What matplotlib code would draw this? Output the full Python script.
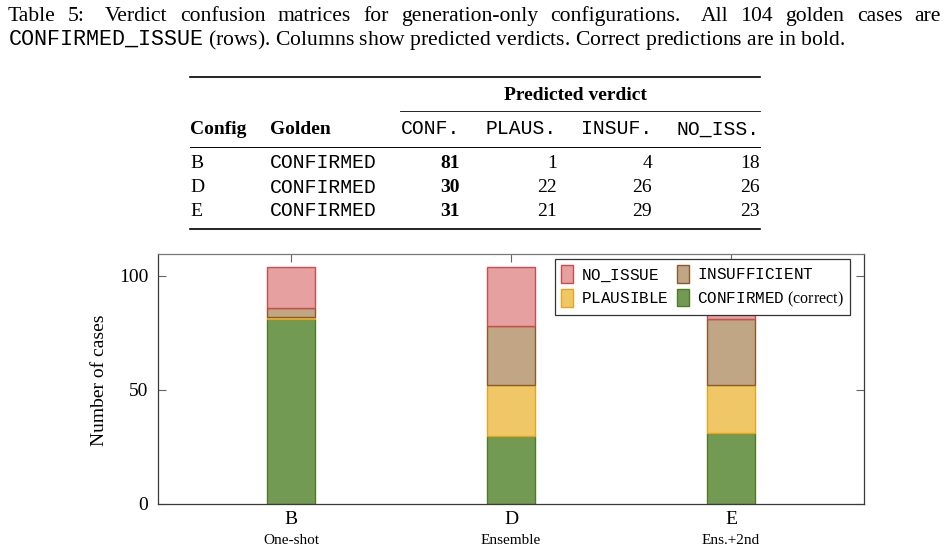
import matplotlib
matplotlib.use("Agg")
import matplotlib.pyplot as plt
import numpy as np
from matplotlib.lines import Line2D
from matplotlib.patches import Patch
from matplotlib.transforms import blended_transform_factory

plt.rcParams['font.family'] = ['Liberation Serif', 'DejaVu Serif']
plt.rcParams['mathtext.fontset'] = 'custom'
plt.rcParams['mathtext.rm'] = 'Liberation Serif'
plt.rcParams['mathtext.tt'] = 'Liberation Mono'
plt.rcParams['mathtext.bf'] = 'Liberation Serif:bold'

# ---------------- data ----------------
configs = ['B', 'D', 'E']
config_desc = ['One-shot', 'Ensemble', 'Ens.+2nd']
golden = ['CONFIRMED', 'CONFIRMED', 'CONFIRMED']
confirmed = [81, 30, 31]
plausible = [1, 22, 21]
insufficient = [4, 26, 29]
no_issue = [18, 26, 23]
pred_headers = ['CONF.', 'PLAUS.', 'INSUF.', 'NO_ISS.']
yticks = [0, 50, 100]

W, H = 949, 552
fig = plt.figure(figsize=(W / 100, H / 100), dpi=100)

def fx(px):
    return px / W

def fy(py):
    return 1 - py / H

MONO = 'Liberation Mono'
SERIF = 'Liberation Serif'

# ---------------- caption ----------------
cap_size = 15.6
words = "Table 5:  Verdict confusion matrices for generation-only configurations.  All 104 golden cases are".split()
renderer = fig.canvas.get_renderer()
tmp = [fig.text(0, 0, w, fontsize=cap_size, family=SERIF) for w in words]
widths = [t.get_window_extent(renderer).width for t in tmp]
for t in tmp:
    t.remove()
weights = []
for w in words[:-1]:
    weights.append(1.6 if w.endswith(':') or w.endswith('.') else 1.0)
left, right = 8, 941
gap_total = (right - left) - sum(widths)
unit = gap_total / sum(weights)
x = left
for i, w in enumerate(words):
    fig.text(fx(x), fy(21), w, fontsize=cap_size, family=SERIF, ha='left', va='baseline')
    x += widths[i]
    if i < len(weights):
        x += unit * weights[i]

fig.text(fx(8), fy(45), r"$\mathtt{CONFIRMED\_ISSUE}$ (rows). Columns show predicted verdicts. Correct predictions are in bold.",
         fontsize=cap_size, family=SERIF, ha='left', va='baseline')

# ---------------- table ----------------
tab_size = 14
mono_size = 14.2
def rule(y, x0, x1, lw):
    fig.add_artist(Line2D([fx(x0), fx(x1)], [fy(y), fy(y)], transform=fig.transFigure,
                          color='black', lw=lw))

rule(77, 190, 760, 1.2)
rule(111, 400, 760, 0.6)
rule(147, 190, 760, 0.7)
rule(229, 190, 760, 1.2)

fig.text(fx(575), fy(95), 'Predicted verdict', fontsize=tab_size, family=SERIF,
         weight='bold', ha='center', va='center')
fig.text(fx(190), fy(129), 'Config', fontsize=tab_size, family=SERIF, weight='bold', ha='left', va='center')
fig.text(fx(270), fy(129), 'Golden', fontsize=tab_size, family=SERIF, weight='bold', ha='left', va='center')
col_right = [460, 557, 652, 760]
for h, xr in zip(pred_headers, col_right):
    fig.text(fx(xr), fy(129), h, fontsize=mono_size, family=MONO, ha='right', va='center')

row_y = [163, 187, 211]
for i, (c, g) in enumerate(zip(configs, golden)):
    y = row_y[i]
    fig.text(fx(190), fy(y), c, fontsize=tab_size, family=SERIF, ha='left', va='center')
    fig.text(fx(270), fy(y), g, fontsize=mono_size, family=MONO, ha='left', va='center')
    vals = [confirmed[i], plausible[i], insufficient[i], no_issue[i]]
    for j, (v, xr) in enumerate(zip(vals, col_right)):
        fig.text(fx(xr), fy(y), str(v), fontsize=tab_size, family=SERIF,
                 weight='bold' if j == 0 else 'normal', ha='right', va='center')

# ---------------- chart ----------------
ax_left, ax_right, ax_top, ax_bot = 158, 864, 254, 504
ax = fig.add_axes([fx(ax_left), fy(ax_bot), fx(ax_right) - fx(ax_left), (ax_bot - ax_top) / H])

xpos = np.arange(len(configs))
bw = 0.218
series = [
    ('CONFIRMED', confirmed, '#739a52', '#4f7a28'),
    ('PLAUSIBLE', plausible, '#f0c766', '#e8a51c'),
    ('INSUFFICIENT', insufficient, '#c0a685', '#8a5a2a'),
    ('NO_ISSUE', no_issue, '#e6a0a0', '#cc4c4c'),
]
bottom = np.zeros(len(configs))
for name, vals, fc, ec in series:
    ax.bar(xpos, vals, bw, bottom=bottom, color=fc, edgecolor=ec, linewidth=1.0, zorder=2)
    bottom += np.array(vals)

ax.set_xlim(-0.605, 2.605)
ax.set_ylim(0, 109.6)
ax.set_yticks(yticks)
ax.set_yticklabels([str(t) for t in yticks], fontsize=14, family=SERIF)
ax.set_xticks(xpos)
ax.set_xticklabels([''] * len(xpos))
ax.tick_params(direction='in', length=6, width=0.8, color='#666666',
               top=True, right=True, bottom=True, left=True, pad=7)
for s in ax.spines.values():
    s.set_color('#3a3a3a')
    s.set_linewidth(0.9)
ax.spines['top'].set_color('#777777')

trans = blended_transform_factory(ax.transData, fig.transFigure)
for xp, c, d in zip(xpos, configs, config_desc):
    ax.text(xp, fy(519), c, transform=trans, fontsize=14, family=SERIF, ha='center', va='center')
    ax.text(xp, fy(540), d, transform=trans, fontsize=11, family=SERIF, ha='center', va='center')

fig.text(fx(100), fy(380), 'Number of cases', rotation=90, fontsize=14, family=SERIF,
         ha='center', va='center')

lookup = {s[0]: s for s in series}
def h(name):
    s = lookup[name]
    return Patch(facecolor=s[2], edgecolor=s[3], linewidth=1.0)

handles = [h('NO_ISSUE'), h('PLAUSIBLE'), h('INSUFFICIENT'), h('CONFIRMED')]
labels = [r'$\mathtt{NO\_ISSUE}$', r'$\mathtt{PLAUSIBLE}$', r'$\mathtt{INSUFFICIENT}$',
          r'$\mathtt{CONFIRMED}$ (correct)']
leg = ax.legend(handles, labels, ncol=2, loc='upper right', bbox_to_anchor=(0.98, 0.98),
                borderaxespad=0, fancybox=False, framealpha=1, edgecolor='#333333',
                prop={'family': SERIF, 'size': 11.5}, handlelength=0.75, handleheight=1.3,
                handletextpad=0.5, columnspacing=0.5, labelspacing=0.35, borderpad=0.4)
leg.get_frame().set_linewidth(0.9)
leg.set_zorder(5)

fig.savefig('out.png', dpi=100)
